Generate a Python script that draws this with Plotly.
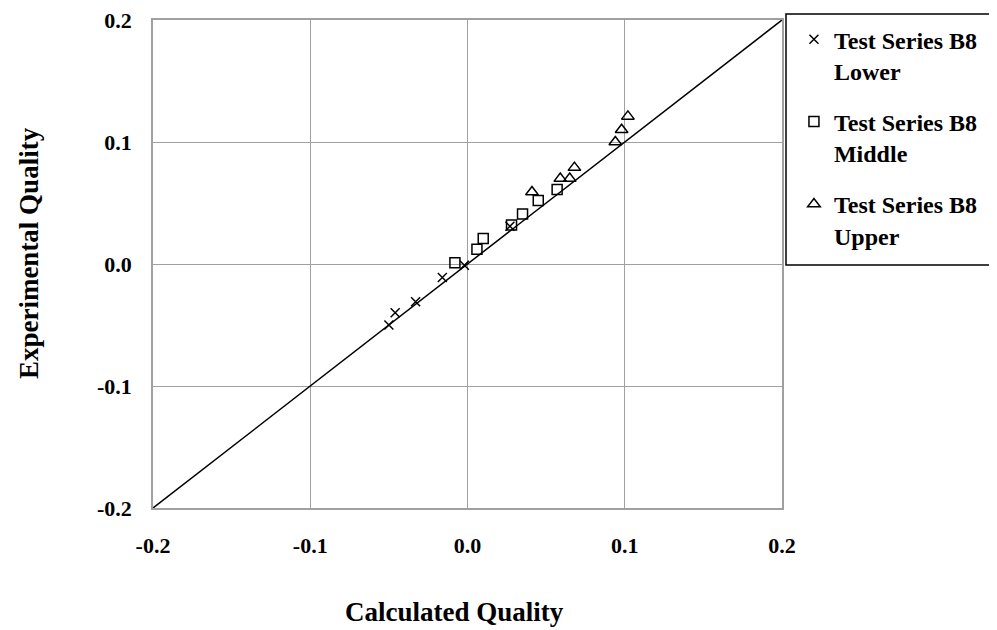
import plotly.graph_objects as go

lower_x = [-0.050, -0.046, -0.033, -0.016, -0.002, 0.027]
lower_y = [-0.050, -0.040, -0.031, -0.011, -0.001, 0.031]
middle_x = [-0.008, 0.006, 0.010, 0.028, 0.035, 0.045, 0.057]
middle_y = [0.001, 0.012, 0.021, 0.032, 0.041, 0.052, 0.061]
upper_x = [0.041, 0.059, 0.065, 0.068, 0.094, 0.098, 0.102]
upper_y = [0.059, 0.070, 0.070, 0.079, 0.100, 0.110, 0.121]
line_x = [-0.2, 0.2]
line_y = [-0.2, 0.2]
ticks = [-0.2, -0.1, 0.0, 0.1, 0.2]
tick_text = ["-0.2", "-0.1", "0.0", "0.1", "0.2"]

FONT = "Liberation Serif"
fig = go.Figure()
fig.add_trace(go.Scatter(x=line_x, y=line_y, mode="lines", line=dict(color="black", width=1.5),
                         showlegend=False, hoverinfo="skip", cliponaxis=False))
fig.add_trace(go.Scatter(x=lower_x, y=lower_y, mode="markers", name="<b>Test Series B8<br>Lower</b>",
                         legendgroup="a",
                         marker=dict(symbol="x-thin-open", size=9, color="black", line=dict(color="black", width=1.5))))
fig.add_trace(go.Scatter(x=middle_x, y=middle_y, mode="markers", name="<b>Test Series B8<br>Middle</b>",
                         legendgroup="b",
                         marker=dict(symbol="square-open", size=10, color="black", line=dict(color="black", width=1.5))))
fig.add_trace(go.Scatter(x=upper_x, y=upper_y, mode="markers", name="<b>Test Series B8<br>Upper</b>",
                         legendgroup="c",
                         marker=dict(symbol="triangle-up-open", size=11, color="black", line=dict(color="black", width=1.5))))

axis_common = dict(range=[-0.2, 0.2], tickvals=ticks, ticktext=[f"<b>{t}</b>" for t in tick_text],
                   showgrid=True, gridcolor="#a0a0a0", gridwidth=1.3,
                   zeroline=True, zerolinecolor="#a0a0a0", zerolinewidth=1.3,
                   showline=True, linecolor="#a0a0a0", linewidth=1.5, mirror=True,
                   ticks="", automargin=False, ticklabeloverflow="allow",
                   tickfont=dict(family=FONT, size=22, color="black"))
fig.update_xaxes(**axis_common, ticklabelstandoff=17)
fig.update_yaxes(**axis_common, ticklabelstandoff=15)

fig.update_layout(
    width=997, height=630,
    margin=dict(l=145, r=223, t=12, b=130, autoexpand=False),
    paper_bgcolor="white", plot_bgcolor="white",
    font=dict(family=FONT, color="black"),
    showlegend=True,
    legend=dict(x=1.0190, y=1.006, xanchor="left", yanchor="top",
                borderwidth=0, bgcolor="rgba(0,0,0,0)",
                font=dict(family=FONT, size=24, color="black"),
                traceorder="grouped", tracegroupgap=17, itemsizing="trace", valign="top"),
    shapes=[dict(type="rect", xref="paper", yref="paper", x0=1.00636, x1=1.3513, y0=0.498, y1=1.0123,
                 line=dict(color="black", width=1.5), fillcolor="rgba(0,0,0,0)", layer="above")],
    annotations=[
        dict(text="<b>Calculated Quality</b>", xref="paper", yref="paper", x=0.480, y=-0.2131,
             xanchor="center", yanchor="middle", showarrow=False, font=dict(family=FONT, size=27)),
        dict(text="<b>Experimental Quality</b>", xref="paper", yref="paper", x=-0.197, y=0.5225,
             xanchor="center", yanchor="middle", textangle=-90, showarrow=False, font=dict(family=FONT, size=27)),
    ],
)
fig.write_html("out.html")
